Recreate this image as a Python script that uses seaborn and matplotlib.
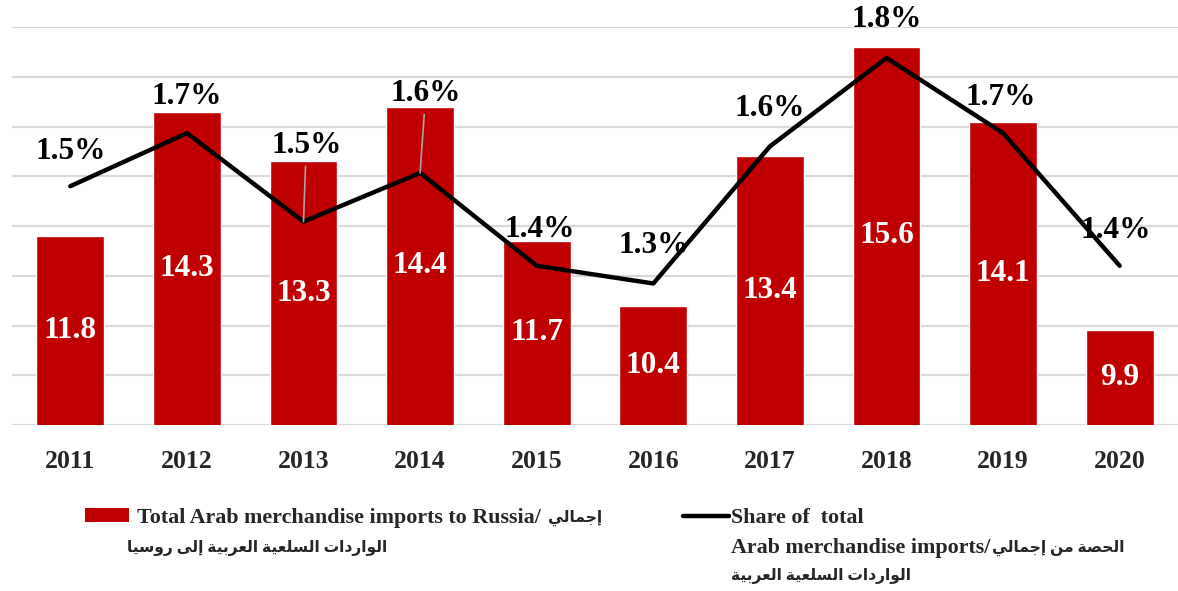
import matplotlib
matplotlib.use("Agg")
import matplotlib.pyplot as plt
import seaborn as sns
import numpy as np
import pandas as pd
from matplotlib.patches import Patch
from matplotlib.lines import Line2D

# ---------------- data ----------------
years = ["2011", "2012", "2013", "2014", "2015", "2016", "2017", "2018", "2019", "2020"]
imports_bn = [11.8, 14.3, 13.3, 14.4, 11.7, 10.4, 13.4, 15.6, 14.1, 9.9]
share_pct = [1.54, 1.66, 1.46, 1.57, 1.36, 1.32, 1.63, 1.83, 1.66, 1.36]
bar_label_en = "Total Arab merchandise imports to Russia/"
bar_label_ar1 = "إجمالي"
bar_label_ar2 = "الواردات السلعية العربية إلى روسيا"
line_label_en1 = "Share of  total"
line_label_en2 = "Arab merchandise imports/"
line_label_ar2 = "الحصة من إجمالي"
line_label_ar3 = "الواردات السلعية العربية"

# ------------- minimal Arabic shaping (visual order) -------------
FORMS = {
    "ا": ("\uFE8D", "\uFE8E", None, None),
    "إ": ("\uFE87", "\uFE88", None, None),
    "ب": ("\uFE8F", "\uFE90", "\uFE91", "\uFE92"),
    "ة": ("\uFE93", "\uFE94", None, None),
    "ت": ("\uFE95", "\uFE96", "\uFE97", "\uFE98"),
    "ج": ("\uFE9D", "\uFE9E", "\uFE9F", "\uFEA0"),
    "ح": ("\uFEA1", "\uFEA2", "\uFEA3", "\uFEA4"),
    "د": ("\uFEA9", "\uFEAA", None, None),
    "ر": ("\uFEAD", "\uFEAE", None, None),
    "س": ("\uFEB1", "\uFEB2", "\uFEB3", "\uFEB4"),
    "ص": ("\uFEB9", "\uFEBA", "\uFEBB", "\uFEBC"),
    "ع": ("\uFEC9", "\uFECA", "\uFECB", "\uFECC"),
    "ل": ("\uFEDD", "\uFEDE", "\uFEDF", "\uFEE0"),
    "م": ("\uFEE1", "\uFEE2", "\uFEE3", "\uFEE4"),
    "ن": ("\uFEE5", "\uFEE6", "\uFEE7", "\uFEE8"),
    "و": ("\uFEED", "\uFEEE", None, None),
    "ى": ("\uFEEF", "\uFEF0", None, None),
    "ي": ("\uFEF1", "\uFEF2", "\uFEF3", "\uFEF4"),
}


def ar(s):
    out = []
    for i, c in enumerate(s):
        if c not in FORMS:
            out.append(c)
            continue
        prev = s[i - 1] if i > 0 else None
        nxt = s[i + 1] if i + 1 < len(s) else None
        jp = prev in FORMS and FORMS[prev][2] is not None
        jn = nxt in FORMS and FORMS[c][2] is not None
        iso, fin, ini, med = FORMS[c]
        if jp and jn:
            out.append(med)
        elif jp:
            out.append(fin)
        elif jn:
            out.append(ini)
        else:
            out.append(iso)
    return "".join(reversed(out))


# ---------------- style ----------------
sns.set_theme(style="white")
FAM = ["Liberation Serif", "DejaVu Sans"]
plt.rcParams["font.family"] = FAM
plt.rcParams["font.weight"] = "bold"

BAR_C = "#c00000"
GRID_C = "#d9d9d9"
W, H = 1178, 591

df = pd.DataFrame({"year": years, "imports": imports_bn, "share": share_pct})

fig = plt.figure(figsize=(W / 100, H / 100), dpi=100)
ax = fig.add_axes([12 / W, 1 - 425 / H, 1166 / W, 398 / H])

sns.barplot(data=df, x="year", y="imports", color=BAR_C, saturation=1,
            width=0.58, ax=ax, zorder=2)
ax.set_ylim(8, 16)
ax.set_yticks(np.arange(8, 16.01, 1))
ax.set_yticklabels([])
ax.yaxis.grid(True, color=GRID_C, lw=1.6, zorder=0)
ax.set_axisbelow(True)
for s in ax.spines.values():
    s.set_visible(False)
ax.set_xlabel("")
ax.set_ylabel("")
ax.tick_params(axis="x", length=0, pad=18, labelsize=18.5)
ax.tick_params(axis="y", length=0)
for t in ax.get_xticklabels():
    t.set_fontweight("bold")
    t.set_family(FAM)

ax.bar_label(ax.containers[0], labels=[f"{v:.1f}" for v in imports_bn],
             label_type="center", color="white", fontsize=22.5, fontweight="bold")

ax2 = ax.twinx()
sns.lineplot(data=df, x="year", y="share", color="black", lw=3.2, ax=ax2,
             sort=False, zorder=3)
ax2.set_ylim(1.0, 1.9)
ax2.set_yticks([])
ax2.set_ylabel("")
for s in ax2.spines.values():
    s.set_visible(False)
ax.set_xlim(-0.5, len(years) - 0.5)

offsets = [35, 37, 76, 79, 36, 38, 38, 38, 36, 35]
dxs = [0, 0, 2, 4, 2, 0, 0, 0, -2, -3]
leaders = [False, False, True, True, False, False, False, False, False, False]
for i, (v, off, dx, ld) in enumerate(zip(share_pct, offsets, dxs, leaders)):
    kw = {}
    if ld:
        kw["arrowprops"] = dict(arrowstyle="-", color="#a6a6a6", lw=1.2,
                                shrinkA=2, shrinkB=0)
    ax2.annotate(f"{v:.1f}%", xy=(i, v), xytext=(dx, off * 0.72),
                 textcoords="offset points", ha="center", va="center",
                 fontsize=22.5, fontweight="bold", color="black", zorder=5, **kw)

# ---------------- legend ----------------
h_bar = Patch(facecolor=BAR_C, edgecolor="none")
h_line = Line2D([], [], color="black", lw=3.2)
LFS = 15.8
AFS = 11.2
leg1 = fig.legend([h_bar], [bar_label_en], loc="center left",
                  bbox_to_anchor=(85 / W, 1 - 518 / H), frameon=False,
                  borderpad=0, borderaxespad=0, handlelength=2.0, handleheight=0.6,
                  handletextpad=0.35, prop=dict(family=FAM, weight="bold", size=LFS))
leg2 = fig.legend([h_line], [line_label_en1], loc="center left",
                  bbox_to_anchor=(683 / W, 1 - 518 / H), frameon=False,
                  borderpad=0, borderaxespad=0, handlelength=2.1,
                  handletextpad=0.1, prop=dict(family=FAM, weight="bold", size=LFS))
fig.canvas.draw()
r = fig.canvas.get_renderer()
e1 = leg1.get_texts()[0].get_window_extent(r)
e2 = leg2.get_texts()[0].get_window_extent(r)
x1 = e1.x0 / W
x2 = e2.x0 / W
ep = dict(family=FAM, weight="bold", size=LFS, va="center", ha="left")
apf = dict(family=FAM, weight="bold", size=AFS, va="center", ha="left")
fig.text(e1.x1 / W + 8 / W, 1 - 518 / H, ar(bar_label_ar1), **apf)
fig.text(x1 - 10 / W, 1 - 548 / H, ar(bar_label_ar2), **apf)
t2 = fig.text(x2, 1 - 548 / H, line_label_en2, **ep)
fig.canvas.draw()
e3 = t2.get_window_extent(r)
fig.text(e3.x1 / W + 1 / W, 1 - 548 / H, ar(line_label_ar2), **apf)
fig.text(x2, 1 - 576 / H, ar(line_label_ar3), **apf)

fig.savefig("out.png", dpi=100)
